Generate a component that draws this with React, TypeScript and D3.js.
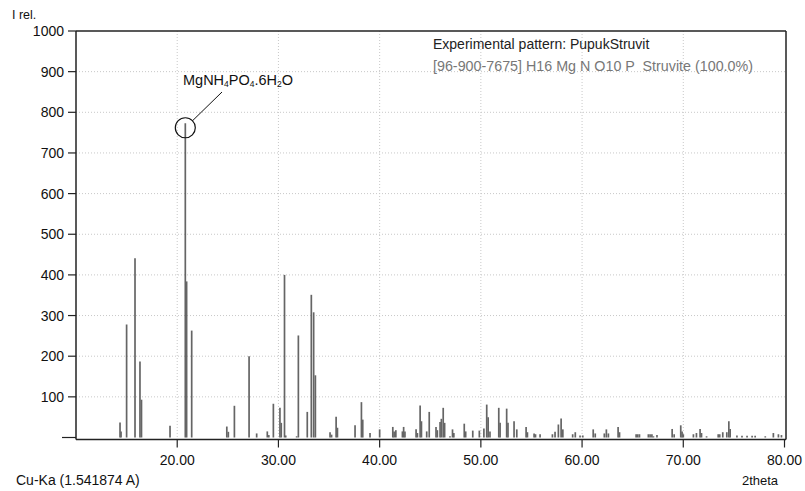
import * as d3 from "d3";

// peak positions (2theta) and relative intensities
const peakAngles = [
  14.35, 14.45, 15.0, 15.83, 16.32, 16.47, 19.29, 20.8, 20.93, 21.43, 24.9, 25.05, 25.65,
  27.1, 27.85, 28.9, 29.05, 29.5, 30.15, 30.28, 30.6, 30.72, 31.8, 31.97, 32.85, 33.25,
  33.48, 33.65, 35.1, 35.25, 35.7, 35.83, 37.57, 38.2, 38.33, 39.05, 40.0, 41.3, 41.43,
  41.6, 42.25, 42.37, 42.5, 43.6, 43.73, 44.0, 44.13, 44.65, 44.9, 45.57, 45.7, 45.97,
  46.1, 46.28, 46.42, 46.95, 47.2, 47.33, 48.36, 48.5, 49.2, 49.85, 50.3, 50.58, 50.72,
  50.9, 51.77, 51.9, 52.55, 52.68, 53.28, 53.55, 54.47, 54.6, 55.26, 55.4, 55.85, 57.07,
  57.33, 57.66, 57.93, 58.1, 59.07, 59.33, 59.8, 60.07, 61.1, 61.3, 62.2, 62.4, 62.6,
  63.56, 63.7, 65.34, 65.5, 65.67, 66.55, 66.72, 66.9, 67.05, 67.4, 68.9, 69.1, 69.75,
  69.88, 70.0, 71.0, 71.3, 71.66, 71.8, 72.3, 73.45, 73.6, 73.9, 74.3, 74.5, 74.63, 75.3,
  75.8, 76.3, 76.8, 77.1, 78.1, 78.9, 79.4, 79.7,
];
const peakIntensities = [
  37, 15, 278, 441, 187, 93, 29, 773, 384, 263, 27, 14, 78,
  200, 10, 15, 6, 83, 73, 36, 400, 5, 3, 251, 63, 351,
  308, 153, 13, 7, 51, 24, 30, 87, 44, 11, 20, 26, 15,
  18, 15, 26, 15, 20, 11, 79, 40, 15, 63, 26, 18, 38,
  46, 73, 36, 3, 20, 11, 34, 15, 17, 17, 22, 81, 50,
  15, 73, 36, 71, 36, 40, 20, 26, 13, 10, 8, 8, 8,
  14, 32, 47, 20, 8, 13, 5, 5, 20, 10, 10, 20, 10,
  26, 13, 8, 8, 8, 8, 8, 8, 3, 6, 21, 8, 30,
  15, 8, 8, 11, 21, 11, 3, 8, 8, 13, 13, 40, 21, 5,
  4, 4, 4, 4, 3, 11, 8, 6,
];
const yTicks = [100, 200, 300, 400, 500, 600, 700, 800, 900, 1000];
const xTicks = [20, 30, 40, 50, 60, 70, 80];

const FONT = "'Liberation Sans', Arial, sans-serif";

export default function App() {
  const W = 805;
  const H = 491;
  const left = 76;
  const right = 786;
  const top = 31;
  const axisY = 439.5;

  const x = d3.scaleLinear().domain([10, 80]).range([left, 784.5]);
  const y = d3.scaleLinear().domain([0, 1000]).range([437.5, top]);

  const peaks = peakAngles.map((a, i) => ({ a, v: peakIntensities[i] }));

  const mainX = x(20.8);
  const mainY = y(762);
  const r = 10;
  const ang = Math.atan2(92 - mainY, 222 - mainX);

  return (
    <svg
      width={W}
      height={H}
      style={{ position: "absolute", left: 0, top: 0, background: "#fff" }}
      fontFamily={FONT}
    >
      {/* grid */}
      {yTicks.slice(0, -1).map((t) => (
        <line key={"gy" + t} x1={left} x2={right} y1={y(t)} y2={y(t)}
          stroke="#c8c8c8" strokeWidth={1} strokeDasharray="1,2" />
      ))}
      {xTicks.slice(0, -1).map((t) => (
        <line key={"gx" + t} x1={x(t)} x2={x(t)} y1={top} y2={axisY}
          stroke="#c8c8c8" strokeWidth={1} strokeDasharray="1,2" />
      ))}

      {/* peaks */}
      {peaks.map((p, i) => (
        <line key={i} x1={x(p.a)} x2={x(p.a)} y1={y(0)} y2={y(p.v)}
          stroke="#656565" strokeWidth={1.7} />
      ))}

      {/* frame */}
      <line x1={left} x2={right} y1={top} y2={top} stroke="#222" strokeWidth={1.5} />
      <line x1={right} x2={right} y1={top} y2={axisY} stroke="#222" strokeWidth={1.5} />
      <line x1={left} x2={left} y1={top} y2={axisY} stroke="#222" strokeWidth={1.5} />
      <line x1={left} x2={right} y1={axisY} y2={axisY} stroke="#222" strokeWidth={1.5} />
      <line x1={62} x2={left} y1={y(0)} y2={y(0)} stroke="#222" strokeWidth={1.2} />

      {/* y axis */}
      {yTicks.map((t) => (
        <g key={"yt" + t}>
          <line x1={68} x2={left} y1={y(t)} y2={y(t)} stroke="#222" strokeWidth={1.2} />
          <text x={64} y={y(t)} dy="0.36em" textAnchor="end" fontSize={14} fill="#111">{t}</text>
        </g>
      ))}
      <text x={12} y={19} fontSize={12.5} fill="#111">I rel.</text>

      {/* x axis */}
      {xTicks.map((t) => (
        <g key={"xt" + t}>
          <line x1={x(t)} x2={x(t)} y1={axisY} y2={axisY + 8} stroke="#222" strokeWidth={1.2} />
          <text x={x(t)} y={465} textAnchor="middle" fontSize={14} fill="#111">{t.toFixed(2)}</text>
        </g>
      ))}
      <text x={16} y={485} fontSize={14} fill="#111">Cu-Ka (1.541874 A)</text>
      <text x={760} y={485} textAnchor="middle" fontSize={13} fill="#111">2theta</text>

      {/* legend */}
      <text x={433} y={49} fontSize={14} fill="#222">Experimental pattern: PupukStruvit</text>
      <text x={433} y={71} fontSize={14.3} fill="#777" xmlSpace="preserve">[96-900-7675] H16 Mg N O10 P  Struvite (100.0%)</text>

      {/* annotation */}
      <circle cx={mainX} cy={mainY} r={r} fill="none" stroke="#111" strokeWidth={1.2} />
      <line x1={mainX + r * Math.cos(ang)} y1={mainY + r * Math.sin(ang)} x2={222} y2={92}
        stroke="#111" strokeWidth={1} />
      <text x={183} y={85} fontSize={14.5} fill="#111">
        MgNH<tspan fontSize={8.5} dy={2}>4</tspan>
        <tspan dy={-2}>PO</tspan><tspan fontSize={8.5} dy={2}>4</tspan>
        <tspan dy={-2}>.6H</tspan><tspan fontSize={8.5} dy={2}>2</tspan>
        <tspan dy={-2}>O</tspan>
      </text>
    </svg>
  );
}
